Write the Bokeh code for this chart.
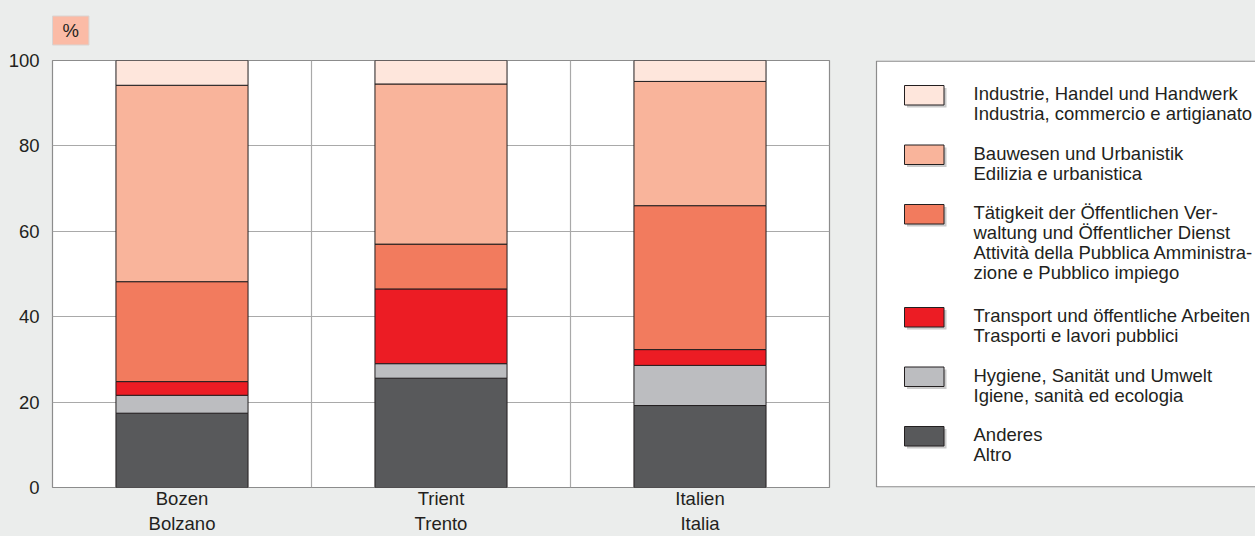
from bokeh.plotting import figure
from bokeh.layouts import row
from bokeh.models import FixedTicker, Range1d
from bokeh.core.properties import value
from bokeh.embed import file_html
from bokeh.resources import INLINE

# ---- data ----
categories = ["Bozen\nBolzano", "Trient\nTrento", "Italien\nItalia"]
anderes = [17.4, 25.6, 19.2]
hygiene = [4.2, 3.4, 9.4]
transport = [3.2, 17.5, 3.7]
taetigkeit = [23.4, 10.5, 33.7]
bauwesen = [46.0, 37.5, 29.1]
industrie = [5.8, 5.5, 4.9]
y_ticks = [0, 20, 40, 60, 80, 100]

series_names = ["anderes", "hygiene", "transport", "taetigkeit", "bauwesen", "industrie"]
series_labels = [
    ["Anderes", "Altro"],
    ["Hygiene, Sanität und Umwelt", "Igiene, sanità ed ecologia"],
    ["Transport und öffentliche Arbeiten", "Trasporti e lavori pubblici"],
    ["Tätigkeit der Öffentlichen Ver-", "waltung und Öffentlicher Dienst",
     "Attività della Pubblica Amministra-", "zione e Pubblico impiego"],
    ["Bauwesen und Urbanistik", "Edilizia e urbanistica"],
    ["Industrie, Handel und Handwerk", "Industria, commercio e artigianato"],
]
colors = ["#58595b", "#bcbdc0", "#ec1c24", "#f27b5e", "#f9b49b", "#fee6dc"]

x_pos = [i + 0.5 for i in range(len(categories))]
data = dict(x=x_pos, anderes=anderes, hygiene=hygiene, transport=transport,
            taetigkeit=taetigkeit, bauwesen=bauwesen, industrie=industrie)

BG = "#ebedec"
FONT = "Liberation Sans"
TXT = "#231f20"
FS = "18.5px"
TOP, BOT = 60, 49          # frame borders (px)
H = 536

# ---------------- chart ----------------
p = figure(width=870, height=H, output_backend="svg", toolbar_location=None,
           x_range=Range1d(0, 3), y_range=Range1d(0, 100),
           min_border_left=52, min_border_right=41, min_border_top=TOP, min_border_bottom=BOT)
p.background_fill_color = "white"
p.border_fill_color = BG
p.outline_line_color = "#8c8c8c"
p.outline_line_width = 1.2

p.vbar_stack(series_names, x="x", width=0.51, source=data,
             fill_color=colors, line_color="#231f20", line_width=1)

p.xaxis.ticker = FixedTicker(ticks=x_pos)
p.xaxis.major_label_overrides = {x: c for x, c in zip(x_pos, categories)}
p.yaxis.ticker = FixedTicker(ticks=y_ticks)
for ax in (p.xaxis[0], p.yaxis[0]):
    ax.axis_line_color = None
    ax.major_tick_line_color = None
    ax.minor_tick_line_color = None
    ax.major_tick_out = 0
    ax.major_tick_in = 0
    ax.minor_tick_out = 0
    ax.major_label_text_font = FONT
    ax.major_label_text_font_size = FS
    ax.major_label_text_color = TXT
p.xaxis.major_label_standoff = 0
p.yaxis.major_label_standoff = 13

p.xgrid.ticker = FixedTicker(ticks=[1, 2])
p.xgrid.grid_line_color = "#a9a9a9"
p.ygrid.grid_line_color = "#a9a9a9"
p.xgrid.grid_line_width = 1.2
p.ygrid.grid_line_width = 1.2

# unit box as title
p.title.text = "%"
p.title.align = "left"
p.title.vertical_align = "top"
p.title.text_font = FONT
p.title.text_font_size = FS
p.title.text_font_style = "normal"
p.title.text_color = TXT
p.title.background_fill_color = "#fbbba6"
p.title.border_line_color = "#d9d4d2"
p.title.padding = (10, 4)
p.title.standoff = 27
p.title.offset = 0

# ---------------- legend panel (pixel coordinates) ----------------
QW = 385
q = figure(width=QW, height=H, output_backend="svg", toolbar_location=None,
           x_range=Range1d(0, QW), y_range=Range1d(H - BOT, TOP),
           x_axis_location=None, y_axis_location=None,
           min_border_left=0, min_border_right=0, min_border_top=TOP, min_border_bottom=BOT)
q.background_fill_color = BG
q.border_fill_color = BG
q.outline_line_color = None
q.grid.visible = False

box_l = 6
q.quad(left=[box_l], right=[QW + 20], top=[TOP + 0.6], bottom=[H - BOT - 0.6],
       fill_color="white", line_color="#8c8c8c", line_width=1.2)

sw_l, sw_w, sw_h = 34, 39.5, 19.5
txt_x = 103
line_h = 20.0
pitch_line, pitch_gap = 21.75, 16.0
top = 85.0
sw = dict(l=[], r=[], t=[], b=[], c=[])
tx = dict(x=[], y=[], t=[])
for lines, col in zip(series_labels[::-1], colors[::-1]):
    sw["l"].append(sw_l); sw["r"].append(sw_l + sw_w)
    sw["t"].append(top); sw["b"].append(top + sw_h); sw["c"].append(col)
    for k, ln in enumerate(lines):
        tx["x"].append(txt_x); tx["y"].append(top + 8.0 + k * line_h); tx["t"].append(ln)
    top += len(lines) * pitch_line + pitch_gap

sh = 2.5
q.quad(left=[v + sh for v in sw["l"]], right=[v + sh for v in sw["r"]],
       top=[v + sh for v in sw["t"]], bottom=[v + sh for v in sw["b"]],
       fill_color="#a8a8a8", fill_alpha=0.6, line_color=None)
q.quad(left=sw["l"], right=sw["r"], top=sw["t"], bottom=sw["b"],
       fill_color=sw["c"], line_color="#231f20", line_width=1)
q.text(x=tx["x"], y=tx["y"], text=tx["t"], text_font=value(FONT),
       text_font_size=FS, text_color=TXT, text_align="left", text_baseline="middle")

layout = row(p, q, spacing=0)
layout.styles = {"background-color": BG}

html = file_html(layout, INLINE)
html = html.replace("</head>", "<style>html,body{background:%s;}</style></head>" % BG, 1)
open("out.html", "w").write(html)
